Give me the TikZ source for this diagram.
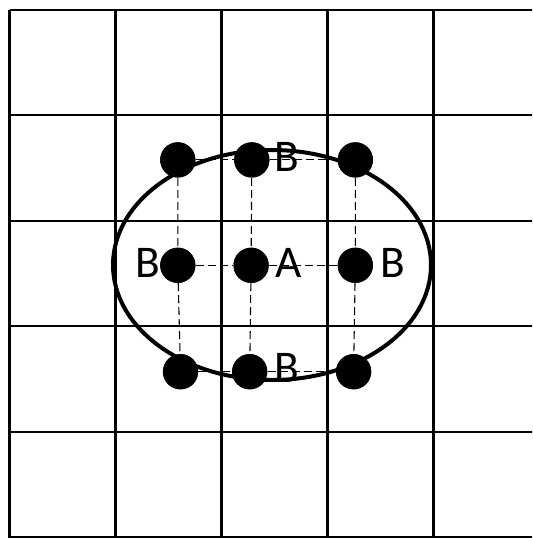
\documentclass[tikz,border=0pt]{standalone}
\usepackage{fontspec}
\setmainfont{Carlito}
\usepackage{tikz}
\usetikzlibrary{positioning,calc}
\tikzset{
  gridline/.style={line width=1.6pt},
  site/.style={circle, fill=black, inner sep=0pt, minimum size=26.4pt},
  sitelabel/.style={font=\fontsize{34}{40}\selectfont, inner sep=0pt},
  link/.style={line width=0.8pt, dash pattern=on 6pt off 3pt},
  hull/.style={line width=3pt},
}

\begin{document}
\begin{tikzpicture}[x=0.75pt, y=-0.75pt]
\clip (0,0) rectangle (532,538);

% ---- grid ----
\foreach \i in {0,...,5} {
  \draw[gridline] ({9.5+106*\i},9.6) -- ({9.5+106*\i},545);
  \draw[gridline] (9.5,{9.6+105.5*\i}) -- (545,{9.6+105.5*\i});
}

% ---- lattice sites ----
\node[site] (tl) at (177.8,159.9) {};
\node[site] (tm) at (251.8,159.9) {};
\node[site] (tr) at (355.3,159.9) {};
\node[site] (ml) at (177.8,265.3) {};
\node[site] (mc) at (251.1,265.3) {};
\node[site] (mr) at (355.3,265.3) {};
\node[site] (bl) at (180.5,371.7) {};
\node[site] (bm) at (249.7,371.7) {};
\node[site] (br) at (353.6,371.7) {};

% ---- dashed links ----
\draw[link] (tl) -- (tm) -- (tr);
\draw[link] (ml) -- (mc) -- (mr);
\draw[link] (bl) -- (bm) -- (br);
\draw[link] (tl) -- (ml) -- (bl);
\draw[link] (tm) -- (mc) -- (bm);
\draw[link] (tr) -- (mr) -- (br);

% ---- neighbourhood ----
\draw[hull] (272,265) ellipse [x radius=159, y radius=115];
\foreach \s in {tl,tm,tr,ml,mc,mr,bl,bm,br}
  \fill (\s) circle (13.2pt);

% ---- labels ----
\node[sitelabel] (lbtop) at (286.7,157) {B};
\node[sitelabel] (lbleft) at (147.6,263) {B};
\node[sitelabel] (la) at (288.4,263) {A};
\node[sitelabel] (lbright) at (392.6,263) {B};
\node[sitelabel] (lbbot) at (286.7,368) {B};
\end{tikzpicture}
\end{document}
